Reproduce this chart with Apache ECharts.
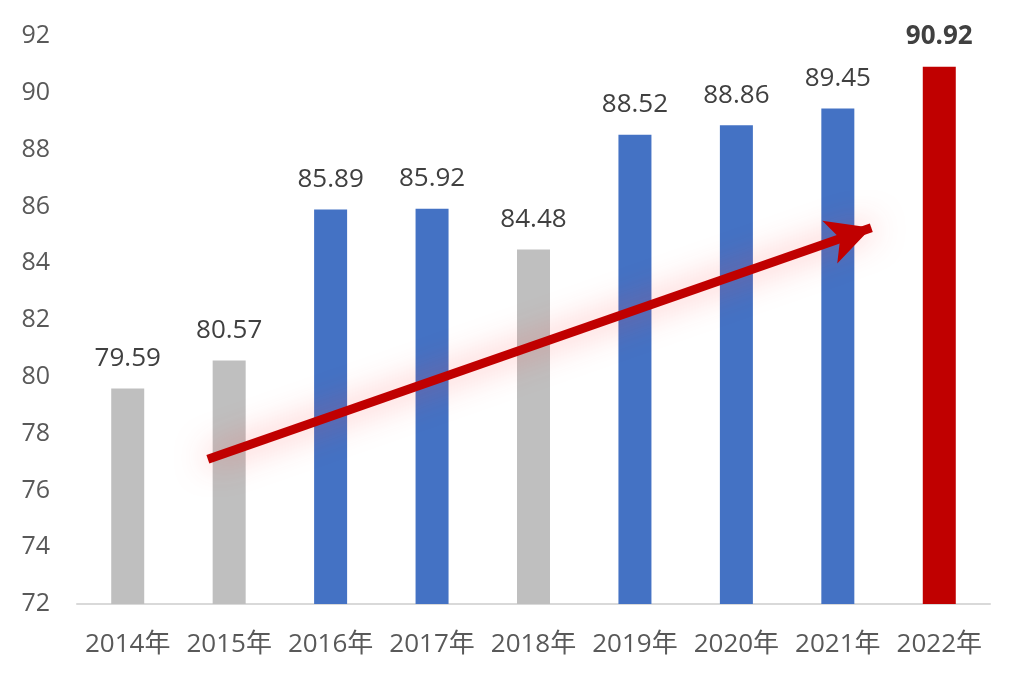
<!DOCTYPE html>
<html>
<head>
<meta charset="utf-8">
<script src="https://cdn.jsdelivr.net/npm/echarts@6/dist/echarts.min.js"></script>
<style>
  html, body { margin: 0; padding: 0; background: #fff; }
  #main { width: 1024px; height: 683px; }
</style>
</head>
<body>
<div id="main"></div>
<script>
const years = ['2014年', '2015年', '2016年', '2017年', '2018年', '2019年', '2020年', '2021年', '2022年']
const values = [79.59, 80.57, 85.89, 85.92, 84.48, 88.52, 88.86, 89.45, 90.92]
// 每根柱子的类型: gray / blue / red
const barKinds = ['gray', 'gray', 'blue', 'blue', 'gray', 'blue', 'blue', 'blue', 'red']
const yTicks = [72, 92, 2]
// 趋势箭头 (x 为类目序号, y 为数值)
const arrowFrom = [0.79, 77.1]
const arrowTo = [7.33, 85.25]

const kindColor = { gray: '#bfbfbf', blue: '#4472c4', red: '#c00000' }
const font = '"Open Sans", "Noto Sans CJK SC", sans-serif'

let myChart = echarts.init(document.getElementById('main'))

let barData = values.map((v, i) => {
  let item = { value: v, itemStyle: { color: kindColor[barKinds[i]] } }
  if (barKinds[i] === 'red') {
    item.label = { fontWeight: 'bold', color: '#404040' }
  }
  return item
})

let option = {
  backgroundColor: '#fff',
  animation: false,
  grid: { left: 77, right: 34, top: 36, bottom: 79 },
  xAxis: [
    {
      type: 'category',
      data: years,
      axisLine: { lineStyle: { color: '#d9d9d9', width: 2 } },
      axisTick: { show: false },
      axisLabel: { color: '#595959', fontSize: 26, fontFamily: font, margin: 28, interval: 0 }
    },
    {
      type: 'value',
      min: -0.5,
      max: years.length - 0.5,
      show: false
    }
  ],
  yAxis: {
    type: 'value',
    min: yTicks[0],
    max: yTicks[1],
    interval: yTicks[2],
    axisLine: { show: false },
    axisTick: { show: false },
    splitLine: { show: false },
    axisLabel: { color: '#595959', fontSize: 25, fontFamily: font, margin: 27 }
  },
  series: [
    {
      type: 'bar',
      xAxisIndex: 0,
      barWidth: 33,
      data: barData,
      label: {
        show: true,
        position: 'top',
        distance: 17,
        color: '#404040',
        fontSize: 26,
        fontFamily: font
      }
    },
    {
      type: 'line',
      xAxisIndex: 1,
      data: [],
      markLine: {
        silent: true,
        symbol: ['none', 'arrow'],
        symbolSize: [34, 44],
        label: { show: false },
        lineStyle: {
          type: 'solid',
          color: '#c00000',
          width: 9,
          shadowColor: 'rgba(255, 60, 60, 0.5)',
          shadowBlur: 32
        },
        data: [[{ coord: arrowFrom }, { coord: arrowTo }]]
      }
    }
  ]
}
myChart.setOption(option)
</script>
</body>
</html>
